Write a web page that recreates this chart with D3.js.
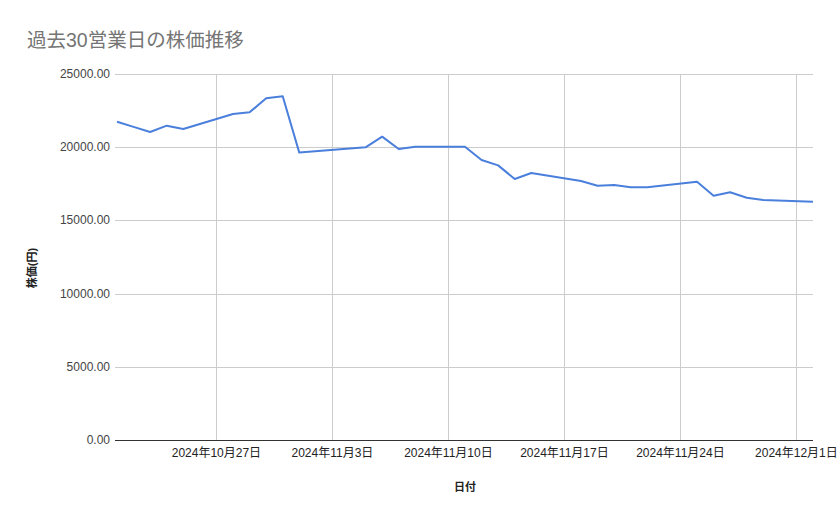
<!DOCTYPE html>
<html>
<head>
<meta charset="utf-8">
<script src="https://cdn.jsdelivr.net/npm/d3@7"></script>
<style>
  body { margin: 0; background: #fff; }
  text { font-family: Arial, "Liberation Sans", "Noto Sans CJK JP", sans-serif; }
</style>
</head>
<body>
<div id="chart"></div>
<script>
(function() {

  // 過去30営業日 (11/4 振替休日)
  var dates = [
    "2024-10-21", "2024-10-22", "2024-10-23", "2024-10-24", "2024-10-25",
    "2024-10-28", "2024-10-29", "2024-10-30", "2024-10-31", "2024-11-01",
    "2024-11-05", "2024-11-06", "2024-11-07", "2024-11-08",
    "2024-11-11", "2024-11-12", "2024-11-13", "2024-11-14", "2024-11-15",
    "2024-11-18", "2024-11-19", "2024-11-20", "2024-11-21", "2024-11-22",
    "2024-11-25", "2024-11-26", "2024-11-27", "2024-11-28", "2024-11-29",
    "2024-12-02"
  ];

  var prices = [
    21740, 21390, 21040, 21470, 21240,
    22270, 22380, 23340, 23480, 19630,
    19990, 20720, 19880, 20030,
    20030, 19130, 18760, 17830, 18240,
    17690, 17370, 17420, 17260, 17260,
    17640, 16690, 16920, 16550, 16390,
    16280
  ];

  var xTicks = ["2024-10-27", "2024-11-03", "2024-11-10", "2024-11-17", "2024-11-24", "2024-12-01"];
  var yTicks = [0, 5000, 10000, 15000, 20000, 25000];

  var title = "過去30営業日の株価推移",
      xTitle = "日付",
      yTitle = "株価(円)";

  var width = 839, height = 519;
  var margin = {top: 74, right: 26, bottom: 79, left: 117};

  var parse = d3.timeParse("%Y-%m-%d");
  var data = dates.map((d, i) => ({date: parse(d), price: prices[i]}));

  var x = d3.scaleTime()
      .domain([parse("2024-10-21"), parse("2024-12-02")])
      .range([margin.left, width - margin.right]);

  var y = d3.scaleLinear()
      .domain([0, 25000])
      .range([height - margin.bottom, margin.top]);

  var svg = d3.select("#chart").append("svg")
      .attr("width", width)
      .attr("height", height);

  svg.append("text")
      .attr("x", 27)
      .attr("y", 47)
      .attr("fill", "#757575")
      .style("font-size", "19.5px")
      .text(title);

  // horizontal grid + labels
  var yAxis = svg.append("g").attr("class", "y-axis");

  yAxis.selectAll("line")
      .data(yTicks.filter(d => d > 0))
    .enter().append("line")
      .attr("x1", margin.left - 2)
      .attr("x2", width - margin.right)
      .attr("y1", d => Math.round(y(d)) + 0.5)
      .attr("y2", d => Math.round(y(d)) + 0.5)
      .attr("stroke", "#cccccc")
      .attr("stroke-width", 1);

  yAxis.selectAll("text")
      .data(yTicks)
    .enter().append("text")
      .attr("x", 110)
      .attr("y", d => y(d) + 4)
      .attr("text-anchor", "end")
      .attr("fill", "#444")
      .style("font-size", "12px")
      .text(d => d3.format(".2f")(d));

  // vertical grid + labels
  var xAxis = svg.append("g").attr("class", "x-axis");
  var fmt = d => d.getFullYear() + "年" + (d.getMonth() + 1) + "月" + d.getDate() + "日";

  xAxis.selectAll("line")
      .data(xTicks.map(parse))
    .enter().append("line")
      .attr("x1", d => Math.round(x(d)) + 0.5)
      .attr("x2", d => Math.round(x(d)) + 0.5)
      .attr("y1", margin.top)
      .attr("y2", height - margin.bottom)
      .attr("stroke", "#cccccc")
      .attr("stroke-width", 1);

  xAxis.selectAll("text")
      .data(xTicks.map(parse))
    .enter().append("text")
      .attr("x", d => x(d))
      .attr("y", 457)
      .attr("text-anchor", "middle")
      .attr("fill", "#222")
      .style("font-size", "12px")
      .text(fmt);

  // baseline
  svg.append("line")
      .attr("x1", margin.left - 2)
      .attr("x2", width - margin.right)
      .attr("y1", Math.round(y(0)) + 0.5)
      .attr("y2", Math.round(y(0)) + 0.5)
      .attr("stroke", "#333")
      .attr("stroke-width", 1);

  var line = d3.line()
      .x(d => x(d.date))
      .y(d => y(d.price));

  svg.append("path")
      .datum(data)
      .attr("d", line)
      .attr("fill", "none")
      .attr("stroke", "#4a7fdc")
      .attr("stroke-width", 2)
      .attr("stroke-linejoin", "round");

  svg.append("text")
      .attr("x", (margin.left + width - margin.right) / 2)
      .attr("y", 491)
      .attr("text-anchor", "middle")
      .attr("fill", "#222")
      .style("font-size", "11px")
      .style("font-weight", "bold")
      .text(xTitle);

  svg.append("text")
      .attr("transform", "translate(36,268) rotate(-90)")
      .attr("text-anchor", "middle")
      .attr("fill", "#222")
      .style("font-size", "11px")
      .style("font-weight", "bold")
      .text(yTitle);

})();
</script>
</body>
</html>
